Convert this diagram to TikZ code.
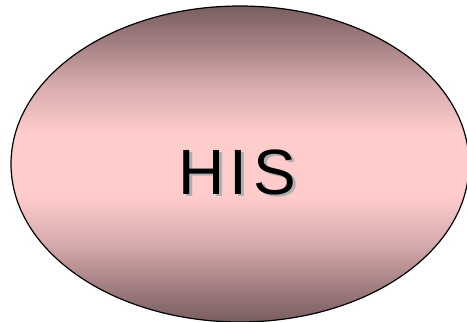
\documentclass[tikz,border=0pt]{standalone}
\usepackage{fontspec}
\setmainfont{Liberation Sans}
\usetikzlibrary{shapes.geometric}
\definecolor{edgemauve}{RGB}{120,94,96}
\definecolor{qmauve}{RGB}{165,128,130}
\definecolor{halfmauve}{RGB}{212,168,170}
\definecolor{midpink}{RGB}{255,204,204}
\definecolor{shadowgray}{RGB}{175,175,175}
\pgfdeclareverticalshading{hisshade}{100bp}{color(0bp)=(edgemauve); color(25bp)=(edgemauve); color(31bp)=(qmauve); color(37bp)=(halfmauve); color(45bp)=(midpink); color(55bp)=(midpink); color(63bp)=(halfmauve); color(69bp)=(qmauve); color(75bp)=(edgemauve); color(100bp)=(edgemauve)}
\tikzset{
  blob/.style={ellipse, draw=black, line width=1.2pt, inner sep=0pt,
    minimum width=458pt, minimum height=316pt, shading=hisshade},
  label/.style={font=\fontsize{64}{70}\selectfont, inner sep=0pt}
}
\begin{document}
\begin{tikzpicture}[x=1pt,y=1pt]
\useasboundingbox (0,0) rectangle (467,322);
\clip (0,0) rectangle (467,322);
\node[blob] (his) at (240,158) {};
\node[label, text=shadowgray] (shadow) at (240.5,147.5) {H\kern5pt I\kern6.5pt S};
\node[label, text=black] (title) at (237.5,150) {H\kern5pt I\kern6.5pt S};
\end{tikzpicture}
\end{document}
